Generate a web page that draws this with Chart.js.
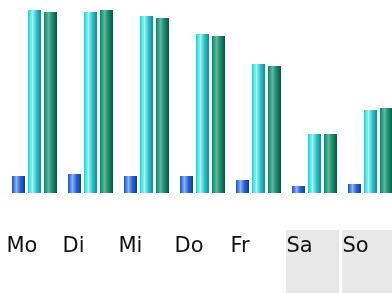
<!DOCTYPE html>
<html>
<head>
<meta charset="utf-8">
<script src="https://cdn.jsdelivr.net/npm/chart.js@4"></script>
<style>
  html, body { margin: 0; padding: 0; background: #fff; overflow: hidden; }
  #wrap { position: absolute; left: 0; top: 0; width: 402px; height: 293px; }
</style>
</head>
<body>
<div id="wrap"><canvas id="chart" width="402" height="293"></canvas></div>
<script>
// weekday categories, weekend days get a grey label cell
const days = ['Mo', 'Di', 'Mi', 'Do', 'Fr', 'Sa', 'So'];
const weekend = [false, false, false, false, false, true, true];

// three series
const blueValues = [17, 19, 17, 17, 13, 7, 9];
const cyanValues = [183, 181, 177, 159, 129, 59, 83];
const greenValues = [181, 183, 175, 157, 127, 59, 85];

// horizontal "cylinder" shading for each series
const blueStops = ['#1850cc', '#8cb4f6', '#2a62d6', '#0a3ca8'];
const cyanStops = ['#12d2d8', '#a6f2f2', '#2cc4c8', '#00929a'];
const greenStops = ['#06876a', '#5cb89e', '#1a8a6c', '#005a3e'];

document.addEventListener('DOMContentLoaded', function () {
    const shading = {
        id: 'shading',
        beforeDraw(chart) {
            // grey cells behind the weekend labels
            const ctx = chart.ctx;
            const x = chart.scales.x;
            const step = x.width / days.length;
            ctx.save();
            ctx.fillStyle = '#e8e8e8';
            weekend.forEach((w, i) => {
                if (!w) return;
                const left = x.getPixelForValue(i) - step / 2 - 0.5;
                ctx.fillRect(left, 230, step - 3, chart.height - 230);
            });
            ctx.restore();
        },
        beforeDatasetsDraw(chart) {
            const ctx = chart.ctx;
            chart.data.datasets.forEach((ds, i) => {
                chart.getDatasetMeta(i).data.forEach(bar => {
                    const g = ctx.createLinearGradient(bar.x - bar.width / 2, 0, bar.x + bar.width / 2, 0);
                    g.addColorStop(0, ds.stops[0]);
                    g.addColorStop(0.35, ds.stops[1]);
                    g.addColorStop(0.65, ds.stops[2]);
                    g.addColorStop(1, ds.stops[3]);
                    bar.options.backgroundColor = g;
                });
            });
        }
    };

    const ctxChart = document.getElementById('chart').getContext('2d');
    new Chart(ctxChart, {
        type: 'bar',
        data: {
            labels: days,
            datasets: [
                { data: blueValues, stops: blueStops, backgroundColor: () => blueStops[3], borderWidth: 0 },
                { data: cyanValues, stops: cyanStops, backgroundColor: () => cyanStops[3], borderWidth: 0 },
                { data: greenValues, stops: greenStops, backgroundColor: () => greenStops[3], borderWidth: 0 }
            ]
        },
        options: {
            responsive: false,
            animation: false,
            events: [],
            layout: { padding: { left: 6.5, right: 3.5, top: 0, bottom: 33.8 } },
            plugins: {
                legend: { display: false },
                tooltip: { enabled: false }
            },
            datasets: {
                bar: { categoryPercentage: 48 / 56, barPercentage: 13 / 16 }
            },
            scales: {
                x: {
                    grid: { display: true, drawOnChartArea: false, drawTicks: true, tickLength: 41, color: 'rgba(0,0,0,0)' },
                    border: { display: false },
                    ticks: {
                        align: 'start',
                        labelOffset: -28,
                        padding: 0,
                        maxRotation: 0,
                        autoSkip: false,
                        color: '#111',
                        font: { family: 'DejaVu Sans', size: 21 }
                    }
                },
                y: { display: false, min: 0, max: 193 }
            }
        },
        plugins: [shading]
    });
});
</script>
</body>
</html>
